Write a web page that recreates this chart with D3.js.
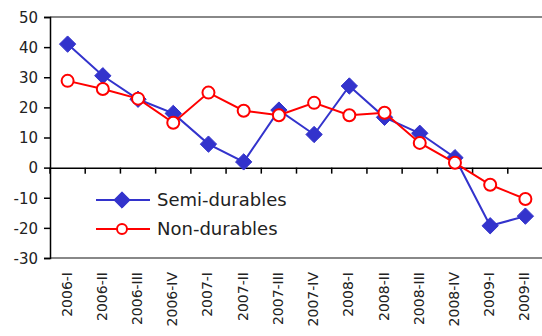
<!DOCTYPE html>
<html><head><meta charset="utf-8">
<script src="https://cdn.jsdelivr.net/npm/d3@7"></script>
<style>body{margin:0;background:#fff}svg{display:block}text{font-family:"DejaVu Sans",sans-serif;fill:#222}</style>
</head><body><svg id="c" width="542" height="336"></svg>
<script>
const categories = ["2006-I","2006-II","2006-III","2006-IV","2007-I","2007-II","2007-III","2007-IV","2008-I","2008-II","2008-III","2008-IV","2009-I","2009-II"];
const semiDurables = [41, 30.5, 22.7, 18, 7.8, 1.9, 19.1, 11, 27.1, 16.7, 11.4, 3.3, -19.3, -16.1];
const nonDurables = [28.8, 26.1, 22.9, 14.9, 24.9, 18.9, 17.4, 21.5, 17.4, 18.2, 8.2, 1.6, -5.7, -10.4];
const yTicks = [50, 40, 30, 20, 10, 0, -10, -20, -30];
const seriesNames = ["Semi-durables", "Non-durables"];

const svg = d3.select("#c");
const L = 50, R = 543, T = 17, B = 258;
const x = d3.scaleBand().domain(categories).range([L, R]);
const y = d3.scaleLinear().domain([-30, 50]).range([B, T]);
const blue = "#3333CC", red = "#FF0000";

// frame lines (top and bottom gray)
svg.append("line").attr("x1", L).attr("x2", 542).attr("y1", y(50)).attr("y2", y(50)).attr("stroke", "#888").attr("stroke-width", 2);
svg.append("line").attr("x1", L).attr("x2", 542).attr("y1", y(-30)).attr("y2", y(-30)).attr("stroke", "#888").attr("stroke-width", 2);

// y axis
const ya = svg.append("g").attr("transform", `translate(${L},0)`)
  .call(d3.axisLeft(y).tickValues(yTicks).tickSize(6).tickPadding(6).tickFormat(d => String(d)));
ya.select(".domain").attr("stroke", "#000").attr("stroke-width", 1.5);
ya.selectAll(".tick line").attr("stroke", "#000").attr("stroke-width", 1.5);
ya.selectAll("text").style("font-size", "15px").attr("fill", "#222").attr("dy", "0.35em");

// zero line with category ticks
const xa = svg.append("g").attr("transform", `translate(0,${y(0)})`)
  .call(d3.axisBottom(x).tickSize(0).tickFormat(""));
xa.select(".domain").attr("stroke", "#000").attr("stroke-width", 1.5);
xa.selectAll(".tick").remove();
const edges = categories.map(c => x(c)).concat([R]);
svg.append("g").selectAll("line").data(edges).join("line")
  .attr("x1", d => d).attr("x2", d => d).attr("y1", y(0)).attr("y2", y(0) + 6)
  .attr("stroke", "#000").attr("stroke-width", 1.5);

// x labels rotated
svg.append("g").selectAll("text").data(categories).join("text")
  .attr("transform", d => `translate(${x(d) + x.bandwidth() / 2 + 4},272) rotate(-90)`)
  .attr("text-anchor", "end").style("font-size", "14px").text(d => d);

const cx = d => x(d) + x.bandwidth() / 2;
const line = d3.line().x((d, i) => cx(categories[i])).y(d => y(d));

// Semi-durables
svg.append("path").datum(semiDurables).attr("d", line).attr("fill", "none").attr("stroke", blue).attr("stroke-width", 2);
const diamond = d3.symbol().type(d3.symbolDiamond2).size(170);
svg.append("g").selectAll("path").data(semiDurables).join("path")
  .attr("d", diamond).attr("transform", (d, i) => `translate(${cx(categories[i])},${y(d)})`)
  .attr("fill", blue).attr("stroke", blue).attr("stroke-width", 1);

// Non-durables
svg.append("path").datum(nonDurables).attr("d", line).attr("fill", "none").attr("stroke", red).attr("stroke-width", 2);
svg.append("g").selectAll("circle").data(nonDurables).join("circle")
  .attr("cx", (d, i) => cx(categories[i])).attr("cy", d => y(d)).attr("r", 6)
  .attr("fill", "#fff").attr("stroke", red).attr("stroke-width", 2);

// legend
const lg = svg.append("g");
const legY = [200, 229];
lg.append("line").attr("x1", 96).attr("x2", 150).attr("y1", legY[0]).attr("y2", legY[0]).attr("stroke", blue).attr("stroke-width", 2);
lg.append("path").attr("d", diamond).attr("transform", `translate(122,${legY[0]})`).attr("fill", blue).attr("stroke", blue);
lg.append("text").attr("x", 157).attr("y", legY[0]).attr("dy", "0.35em").style("font-size", "18px").text(seriesNames[0]);
lg.append("line").attr("x1", 96).attr("x2", 150).attr("y1", legY[1]).attr("y2", legY[1]).attr("stroke", red).attr("stroke-width", 2);
lg.append("circle").attr("cx", 122).attr("cy", legY[1]).attr("r", 5).attr("fill", "#fff").attr("stroke", red).attr("stroke-width", 2);
lg.append("text").attr("x", 157).attr("y", legY[1]).attr("dy", "0.35em").style("font-size", "18px").text(seriesNames[1]);
</script></body></html>
